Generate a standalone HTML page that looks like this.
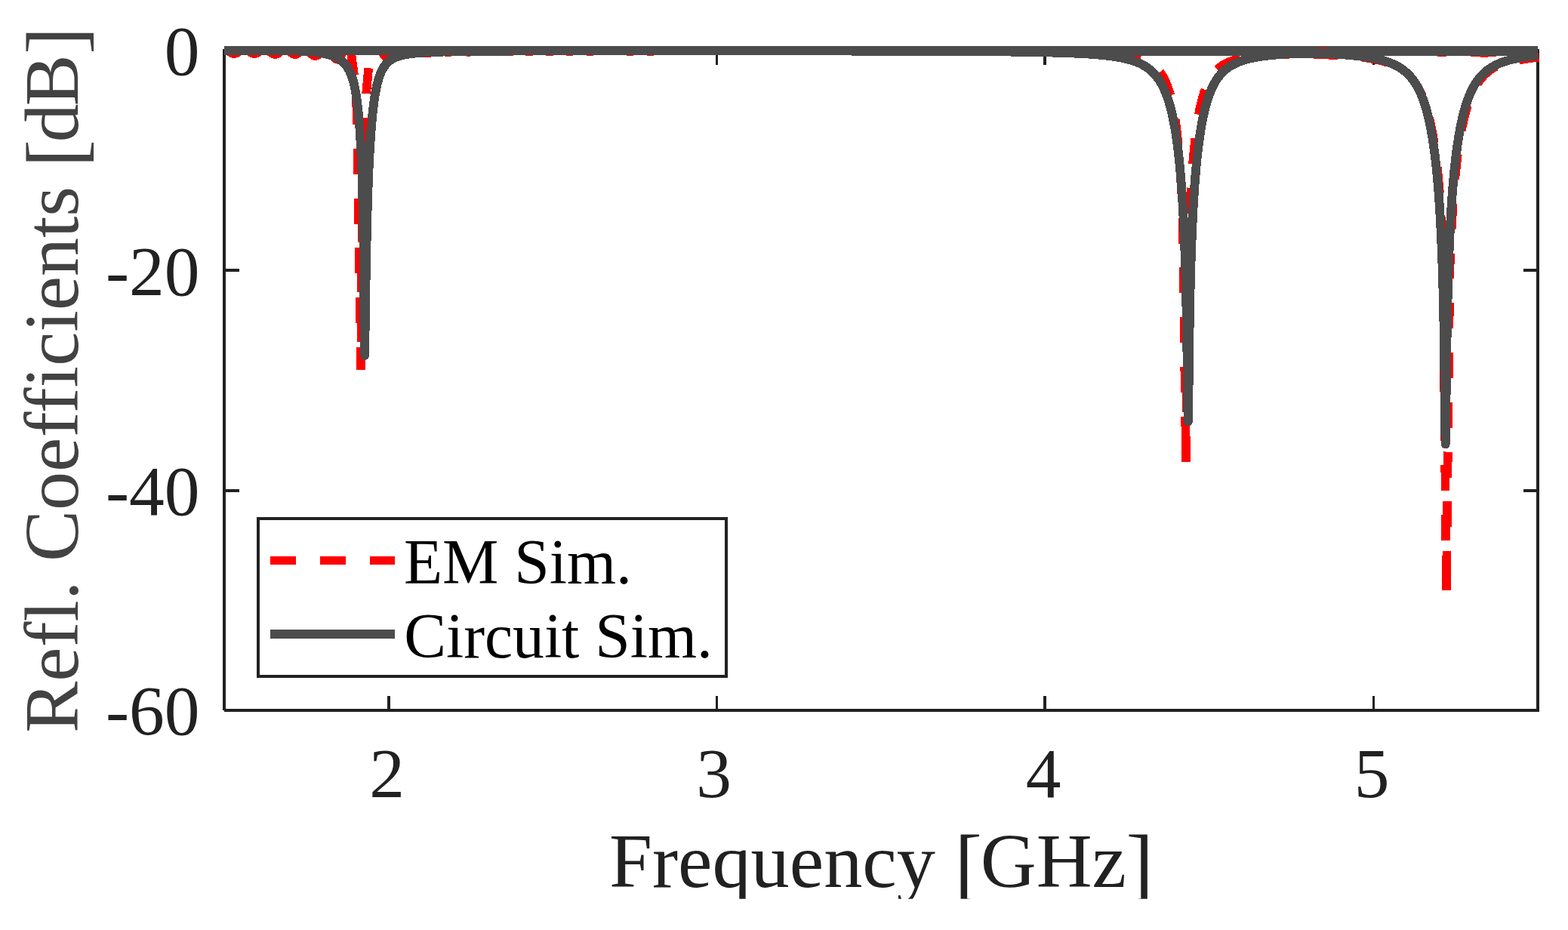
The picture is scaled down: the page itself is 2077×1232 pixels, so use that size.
<!DOCTYPE html>
<html lang="en"><head><meta charset="utf-8"><title>Reflection coefficients: EM vs circuit simulation</title>
<style>
html,body{margin:0;padding:0;background:#fff;}
body{width:2077px;height:1232px;overflow:hidden;}
svg{display:block;}
text{font-family:"Liberation Serif",serif;}
.tk{font-size:93.5px;fill:#212121;}
.lb{font-size:102px;font-variant-ligatures:discretionary-ligatures;}
.br{font-size:109px;}
.lg{font-size:84.3px;fill:#000;}
</style></head><body>
<svg width="2077" height="1232" viewBox="0 0 2077 1232">
<defs><clipPath id="xlclip"><rect x="-400" y="-120" width="800" height="136"/></clipPath><clipPath id="rclip"><rect x="290" y="62" width="1760" height="900"/></clipPath></defs>
<rect width="2077" height="1232" fill="#fff"/>
<g fill="#212121" shape-rendering="crispEdges">
<rect x="295" y="65" width="4" height="876"/>
<rect x="2035" y="65" width="4" height="878"/>
<rect x="297" y="939" width="1742" height="4"/>
<rect x="297" y="65" width="1742" height="4"/>
<rect x="513" y="922" width="4" height="18"/>
<rect x="513" y="68" width="4" height="18"/>
<rect x="948" y="922" width="3" height="18"/>
<rect x="948" y="68" width="3" height="18"/>
<rect x="1382" y="922" width="4" height="18"/>
<rect x="1382" y="68" width="4" height="18"/>
<rect x="1818" y="922" width="3" height="18"/>
<rect x="1818" y="68" width="3" height="18"/>
<rect x="298" y="356" width="19" height="4"/>
<rect x="2018" y="356" width="18" height="4"/>
<rect x="298" y="648" width="19" height="4"/>
<rect x="2018" y="648" width="18" height="4"/>
</g>
<g class="tk" text-anchor="end">
<text x="264.6" y="99.25">0</text>
<text x="264.6" y="390.62">-20</text>
<text x="264.6" y="681.98">-40</text>
<text x="264.6" y="973.35">-60</text>
</g>
<g class="tk" text-anchor="middle">
<text x="512.53" y="1055.8">2</text>
<text x="945.53" y="1055.8">3</text>
<text x="1382.04" y="1055.8">4</text>
<text x="1817.04" y="1055.8">5</text>
</g>
<g transform="translate(1167.5 1174.7) scale(1.003 1)" clip-path="url(#xlclip)"><text class="lb" fill="#212121" text-anchor="middle">Frequency <tspan class="br" dy="6.3" dx="0">[</tspan><tspan dy="-6.3" dx="-2">GHz</tspan><tspan class="br" dy="6.3" dx="-0.5">]</tspan></text></g>
<text class="lb" fill="#424242" text-anchor="middle" transform="translate(103.3 503.2) rotate(-90) scale(1.001 1)">Refl. Coefficients <tspan class="br" dy="6.3" dx="0">[</tspan><tspan dy="-6.3" dx="-3.5">d</tspan><tspan dx="-3">B</tspan><tspan class="br" dy="6.3" dx="0.5">]</tspan></text>
<g fill="none" shape-rendering="crispEdges">
<g clip-path="url(#rclip)">
<path d="M297.03 65.4L297.52 65.42L298.01 65.48L298.49 65.57L298.98 65.7L299.47 65.86L299.96 66.06L300.44 66.28L300.93 66.53L301.42 66.8L301.91 67.09L302.4 67.4L302.88 67.71L303.37 68.04L303.86 68.36L304.35 68.69L304.83 69L305.32 69.31L305.81 69.6L306.3 69.87L306.79 70.12L307.27 70.34L307.76 70.54L308.25 70.7L308.74 70.83L309.22 70.92L309.71 70.98L310.2 71L310.7 70.98L311.19 70.92L311.69 70.83L312.19 70.7L312.68 70.53L313.18 70.33L313.67 70.11L314.17 69.85L314.67 69.58L315.16 69.28L315.66 68.97L316.16 68.64L316.65 68.32L317.15 67.98L317.64 67.66L318.14 67.33L318.64 67.02L319.13 66.72L319.63 66.45L320.13 66.19L320.62 65.97L321.12 65.77L321.61 65.6L322.11 65.47L322.61 65.38L323.1 65.32L323.6 65.3L324.1 65.32L324.59 65.38L325.09 65.47L325.59 65.61L326.08 65.77L326.58 65.97L327.07 66.2L327.57 66.46L328.07 66.74L328.56 67.04L329.06 67.35L329.56 67.68L330.05 68.01L330.55 68.34L331.04 68.67L331.54 69L332.04 69.31L332.53 69.61L333.03 69.89L333.53 70.15L334.02 70.38L334.52 70.58L335.01 70.74L335.51 70.88L336.01 70.97L336.5 71.03L337 71.05L337.49 71.03L337.99 70.98L338.48 70.89L338.97 70.77L339.46 70.61L339.96 70.42L340.45 70.21L340.94 69.97L341.44 69.7L341.93 69.42L342.42 69.12L342.91 68.81L343.41 68.5L343.9 68.17L344.39 67.85L344.89 67.54L345.38 67.23L345.87 66.93L346.36 66.65L346.86 66.38L347.35 66.14L347.84 65.93L348.34 65.74L348.83 65.58L349.32 65.46L349.81 65.37L350.31 65.32L350.8 65.3L351.29 65.32L351.79 65.38L352.28 65.49L352.77 65.63L353.26 65.81L353.76 66.03L354.25 66.28L354.74 66.56L355.24 66.87L355.73 67.2L356.22 67.54L356.71 67.9L357.21 68.27L357.7 68.65L358.19 69.03L358.69 69.4L359.18 69.76L359.67 70.1L360.16 70.43L360.66 70.74L361.15 71.02L361.64 71.27L362.14 71.49L362.63 71.67L363.12 71.81L363.61 71.92L364.11 71.98L364.6 72L365.09 71.98L365.57 71.91L366.06 71.8L366.54 71.64L367.03 71.45L367.51 71.22L368 70.95L368.48 70.65L368.97 70.33L369.45 69.98L369.94 69.61L370.42 69.23L370.91 68.84L371.39 68.46L371.88 68.07L372.36 67.69L372.85 67.32L373.33 66.97L373.82 66.65L374.3 66.35L374.79 66.08L375.27 65.85L375.76 65.66L376.24 65.5L376.73 65.39L377.21 65.32L377.7 65.3L378.19 65.32L378.67 65.39L379.16 65.5L379.64 65.66L380.13 65.85L380.61 66.08L381.1 66.35L381.58 66.65L382.07 66.97L382.55 67.32L383.04 67.69L383.52 68.07L384.01 68.46L384.49 68.84L384.98 69.23L385.46 69.61L385.95 69.98L386.43 70.33L386.92 70.65L387.4 70.95L387.89 71.22L388.37 71.45L388.86 71.64L389.34 71.8L389.83 71.91L390.31 71.98L390.8 72L391.29 71.98L391.78 71.91L392.27 71.8L392.76 71.64L393.25 71.45L393.74 71.22L394.24 70.95L394.73 70.65L395.22 70.33L395.71 69.98L396.2 69.61L396.69 69.23L397.18 68.84L397.67 68.46L398.16 68.07L398.65 67.69L399.14 67.32L399.63 66.97L400.12 66.65L400.61 66.35L401.11 66.08L401.6 65.85L402.09 65.66L402.58 65.5L403.07 65.39L403.56 65.32L404.05 65.3L404.54 65.33L405.03 65.42L405.52 65.56L406.01 65.76L406.5 66.02L406.99 66.32L407.49 66.66L407.98 67.05L408.47 67.47L408.96 67.93L409.45 68.4L409.94 68.89L410.43 69.4L410.92 69.9L411.41 70.41L411.9 70.9L412.39 71.37L412.88 71.83L413.37 72.25L413.86 72.64L414.36 72.98L414.85 73.28L415.34 73.54L415.83 73.74L416.32 73.88L416.81 73.97L417.3 74L417.79 73.98L418.27 73.92L418.76 73.83L419.25 73.7L419.74 73.53L420.22 73.33L420.71 73.1L421.2 72.83L421.68 72.55L422.17 72.23L422.66 71.9L423.15 71.55L423.63 71.19L424.12 70.82L424.61 70.44L425.09 70.06L425.58 69.68L426.07 69.31L426.55 68.95L427.04 68.6L427.53 68.27L428.02 67.95L428.5 67.67L428.99 67.4L429.48 67.17L429.96 66.97L430.45 66.8L430.94 66.67L431.43 66.58L431.91 66.52L432.4 66.5L432.89 66.53L433.37 66.63L433.86 66.78L434.35 67L434.84 67.28L435.32 67.61L435.81 67.99L436.3 68.42L436.78 68.9L437.27 69.41L437.76 69.96L438.25 70.53L438.73 71.13L439.22 71.74L439.71 72.36L440.19 72.99L440.68 73.61L441.17 74.22L441.65 74.82L442.14 75.39L442.63 75.94L443.12 76.45L443.6 76.93L444.09 77.36L444.58 77.74L445.06 78.07L445.55 78.35L446.04 78.57L446.53 78.72L447.01 78.82L447.5 78.85L447.98 78.78L448.46 78.55L448.94 78.19L449.42 77.69L449.9 77.07L450.39 76.34L450.87 75.51L451.35 74.61L451.83 73.66L452.31 72.67L452.79 71.68L453.27 70.69L453.75 69.74L454.23 68.84L454.71 68.01L455.2 67.28L455.68 66.66L456.16 66.16L456.64 65.8L457.12 65.57L457.6 65.5L458.1 65.51L458.6 65.55L459.1 65.61L459.6 65.69L460.1 65.78L460.6 65.89L461.1 66L461.6 66.11L462.1 66.22L462.6 66.31L463.1 66.39L463.6 66.45L464.1 66.49L464.6 66.5" stroke="#ff0000" stroke-width="11.7" stroke-linejoin="round"/>
<path d="M478.1 489.8L473 150L469 100L464.6 66.5" stroke="#ff0000" stroke-width="11.7" stroke-dasharray="34 31.8" stroke-dashoffset="4.2" stroke-linejoin="bevel"/>
<path d="M478.1 489.8L479.4 340L481.6 215L484.9 126L488 92.2L490.2 70L490.7 69.97L491.2 69.87L491.7 69.7L492.2 69.47L492.7 69.19L493.2 68.87L493.7 68.5L494.2 68.1L494.7 67.68L495.2 67.25L495.7 66.82L496.2 66.4L496.7 66L497.2 65.63L497.7 65.31L498.2 65.03L498.7 64.8L499.2 64.63L499.7 64.53L500.2 64.5L500.7 64.54L501.19 64.66L501.69 64.86L502.19 65.14L502.68 65.49L503.18 65.9L503.67 66.38L504.17 66.92L504.67 67.5L505.16 68.12L505.66 68.78L506.16 69.46L506.65 70.15L507.15 70.85L507.64 71.54L508.14 72.22L508.64 72.88L509.13 73.5L509.63 74.08L510.13 74.62L510.62 75.1L511.12 75.51L511.61 75.86L512.11 76.14L512.61 76.34L513.1 76.46L513.6 76.5L514.1 76.47L514.59 76.4L515.09 76.27L515.59 76.1L516.08 75.88L516.58 75.62L517.07 75.32L517.57 74.99L518.07 74.62L518.56 74.24L519.06 73.83L519.56 73.4L520.05 72.97L520.55 72.53L521.04 72.1L521.54 71.67L522.04 71.26L522.53 70.88L523.03 70.51L523.53 70.18L524.02 69.88L524.52 69.62L525.01 69.4L525.51 69.23L526.01 69.1L526.5 69.03L527 69L527.49 69.02L527.99 69.06L528.48 69.14L528.97 69.24L529.46 69.37L529.96 69.53L530.45 69.71L530.94 69.91L531.43 70.12L531.93 70.36L532.42 70.6L532.91 70.86L533.4 71.12L533.9 71.38L534.39 71.64L534.88 71.9L535.37 72.14L535.87 72.38L536.36 72.59L536.85 72.79L537.34 72.97L537.84 73.13L538.33 73.26L538.82 73.36L539.31 73.44L539.81 73.48L540.3 73.5L540.8 73.48L541.29 73.43L541.79 73.35L542.29 73.23L542.78 73.09L543.28 72.92L543.77 72.72L544.27 72.49L544.77 72.25L545.26 71.99L545.76 71.72L546.26 71.43L546.75 71.15L547.25 70.85L547.74 70.57L548.24 70.28L548.74 70.01L549.23 69.75L549.73 69.51L550.23 69.28L550.72 69.08L551.22 68.91L551.71 68.77L552.21 68.65L552.71 68.57L553.2 68.52L553.7 68.5" stroke="#ff0000" stroke-width="11.7" stroke-dasharray="34 31.8" stroke-dashoffset="29" stroke-linejoin="bevel"/>
<path d="M553.7 68.5L557.7 68.36L558.2 68.48L558.7 68.6L559.2 68.73L559.7 68.87L560.2 69.01L560.7 69.15L561.2 69.3L561.7 69.44L562.2 69.57L562.7 69.7L563.2 69.81L563.7 69.92L564.2 70.01L564.7 70.08L565.2 70.14L565.7 70.18L566.2 70.2L566.7 70.2L567.2 70.18L567.7 70.14L568.2 70.09L568.7 70.01L569.2 69.91L569.7 69.79L570.2 69.66L570.7 69.51L571.2 69.35L571.7 69.18L572.2 69L572.7 68.81L573.2 68.62L573.7 68.42L574.2 68.23L574.7 68.03L575.2 67.85L575.7 67.66L576.2 67.49L576.7 67.33L577.2 67.18L577.7 67.05L578.2 66.93L578.7 66.84L579.2 66.76L579.7 66.7L580.2 66.66L580.7 66.64L581.2 66.64L581.7 66.67L582.2 66.71L582.7 66.78L583.2 66.86L583.7 66.96L584.2 67.07L584.7 67.2L585.2 67.33L585.7 67.48L586.2 67.64L586.7 67.8L587.2 67.96L587.7 68.12L588.2 68.28L588.7 68.44L589.2 68.58L589.7 68.72L590.2 68.85L590.7 68.96L591.2 69.06L591.7 69.15L592.2 69.21L592.7 69.26L593.2 69.28L593.7 69.29L594.2 69.27L594.7 69.24L595.2 69.18L595.7 69.11L596.2 69.01L596.7 68.9L597.2 68.78L597.7 68.64L598.2 68.48L598.7 68.32L599.2 68.14L599.7 67.96L600.2 67.78L600.7 67.59L601.2 67.41L601.7 67.23L602.2 67.05L602.7 66.89L603.2 66.73L603.7 66.58L604.2 66.45L604.7 66.34L605.2 66.24L605.7 66.16L606.2 66.1L606.7 66.06L607.2 66.04L607.7 66.04L608.2 66.06L608.7 66.1L609.2 66.16L609.7 66.24L610.2 66.34L610.7 66.45L611.2 66.58L611.7 66.72L612.2 66.87L612.7 67.03L613.2 67.19L613.7 67.36L614.2 67.53L614.7 67.7L615.2 67.86L615.7 68.02L616.2 68.17L616.7 68.31L617.2 68.43L617.7 68.55L618.2 68.64L618.7 68.72L619.2 68.78L619.7 68.82L620.2 68.84L620.7 68.84L621.2 68.82L621.7 68.77L622.2 68.71L622.7 68.63L623.2 68.53L623.7 68.41L624.2 68.28L624.7 68.14L625.2 67.98L625.7 67.82L626.2 67.66L626.7 67.49L627.2 67.32L627.7 67.15L628.2 66.99L628.7 66.84L629.2 66.7L629.7 66.57L630.2 66.46L630.7 66.36L631.2 66.29L631.7 66.23L632.2 66.2L632.7 66.18L633.2 66.18L633.7 66.2L634.2 66.24L634.7 66.29L635.2 66.36L635.7 66.44L636.2 66.52L636.7 66.61L637.2 66.7L637.7 66.78L638.2 66.87L638.7 66.94L639.2 67.01L639.7 67.07L640.2 67.12L640.7 67.16L641.2 67.19L641.7 67.21L642.2 67.21L642.7 67.21L643.2 67.2L643.7 67.19L644.2 67.18L644.7 67.16L645.2 67.14L645.7 67.13L646.2 67.12L646.7 67.12L647.2 67.12L647.7 67.13L648.2 67.14L648.7 67.15L649.2 67.17L649.7 67.19L650.2 67.2L650.7 67.21L651.2 67.22L651.7 67.22L652.2 67.21L652.7 67.19L653.2 67.16L653.7 67.11L654.2 67.05L654.7 66.98L655.2 66.9L655.7 66.81L656.2 66.71L656.7 66.61L657.2 66.5L657.7 66.39L658.2 66.29L658.7 66.19L659.2 66.1L659.7 66.02L660.2 65.95L660.7 65.9L661.2 65.87L661.7 65.86L662.2 65.86L662.7 65.89L663.2 65.94L663.7 66.01L664.2 66.09L664.7 66.2L665.2 66.32L665.7 66.45L666.2 66.6L666.7 66.75L667.2 66.92L667.7 67.08L668.2 67.25L668.7 67.41L669.2 67.57L669.7 67.73L670.2 67.87L670.7 68L671.2 68.12L671.7 68.22L672.2 68.31L672.7 68.38L673.2 68.42L673.7 68.45L674.2 68.46L674.7 68.45L675.2 68.41L675.7 68.36L676.2 68.28L676.7 68.19L677.2 68.08L677.7 67.96L678.2 67.82L678.7 67.67L679.2 67.51L679.7 67.34L680.2 67.16L680.7 66.99L681.2 66.81L681.7 66.63L682.2 66.46L682.7 66.29L683.2 66.14L683.7 65.99L684.2 65.86L684.7 65.74L685.2 65.64L685.7 65.56L686.2 65.49L686.7 65.45L687.2 65.42L687.7 65.42L688.2 65.43L688.7 65.47L689.2 65.52L689.7 65.6L690.2 65.69L690.7 65.8L691.2 65.93L691.7 66.07L692.2 66.22L692.7 66.38L693.2 66.54L693.7 66.71L694.2 66.89L694.7 67.06L695.2 67.23L695.7 67.4L696.2 67.56L696.7 67.71L697.2 67.85L697.7 67.98L698.2 68.09L698.7 68.18L699.2 68.26L699.7 68.32L700.2 68.35L700.7 68.37L701.2 68.37L701.7 68.34L702.2 68.3L702.7 68.23L703.2 68.15L703.7 68.05L704.2 67.93L704.7 67.8L705.2 67.66L705.7 67.5L706.2 67.34L706.7 67.17L707.2 66.99L707.7 66.81L708.2 66.64L708.7 66.46L709.2 66.3L709.7 66.13L710.2 65.98L710.7 65.84L711.2 65.72L711.7 65.61L712.2 65.52L712.7 65.44L713.2 65.39L713.7 65.35L714.2 65.34L714.7 65.34L715.2 65.37L715.7 65.42L716.2 65.48L716.7 65.57L717.2 65.67L717.7 65.79L718.2 65.92L718.7 66.06L719.2 66.22L719.7 66.38L720.2 66.55L720.7 66.73L721.2 66.9L721.7 67.08L722.2 67.25L722.7 67.41L723.2 67.57L723.7 67.71L724.2 67.85L724.7 67.96L725.2 68.07L725.7 68.15L726.2 68.22L726.7 68.27L727.2 68.3L727.7 68.31L728.2 68.29L728.7 68.26L729.2 68.21L729.7 68.13L730.2 68.04L730.7 67.93L731.2 67.81L731.7 67.67L732.2 67.52L732.7 67.36L733.2 67.2L733.7 67.02L734.2 66.85L734.7 66.67L735.2 66.5L735.7 66.32L736.2 66.16L736.7 66L737.2 65.86L737.7 65.73L738.2 65.61L738.7 65.51L739.2 65.42L739.7 65.36L740.2 65.31L740.7 65.29L741.2 65.28L741.7 65.3L742.2 65.34L742.7 65.39L743.2 65.47L743.7 65.56L744.2 65.67L744.7 65.8L745.2 65.94L745.7 66.09L746.2 66.25L746.7 66.41L747.2 66.59L747.7 66.76L748.2 66.94L748.7 67.11L749.2 67.28L749.7 67.44L750.2 67.59L750.7 67.73L751.2 67.86L751.7 67.97L752.2 68.07L752.7 68.14L753.2 68.2L753.7 68.24L754.2 68.26L754.7 68.26L755.2 68.24L755.7 68.19L756.2 68.13L756.7 68.05L757.2 67.95L757.7 67.83L758.2 67.7L758.7 67.56L759.2 67.41L759.7 67.24L760.2 67.07L760.7 66.9L761.2 66.72L761.7 66.55L762.2 66.37L762.7 66.21L763.2 66.04L763.7 65.89L764.2 65.76L764.7 65.63L765.2 65.52L765.7 65.43L766.2 65.35L766.7 65.3L767.2 65.26L767.7 65.25L768.2 65.25L768.7 65.28L769.2 65.33L769.7 65.39L770.2 65.48L770.7 65.58L771.2 65.7L771.7 65.83L772.2 65.97L772.7 66.13L773.2 66.29L773.7 66.46L774.2 66.64L774.7 66.81L775.2 66.99L775.7 67.16L776.2 67.32L776.7 67.48L777.2 67.63L777.7 67.76L778.2 67.88L778.7 67.99L779.2 68.07L779.7 68.14L780.2 68.19L780.7 68.22L781.2 68.22L781.7 68.21L782.2 68.18L782.7 68.12L783.2 68.05L783.7 67.96L784.2 67.85L784.7 67.73L785.2 67.59L785.7 67.44L786.2 67.28L786.7 67.12L787.2 66.95L787.7 66.79L788.2 66.62L788.7 66.46L789.2 66.3L789.7 66.16L790.2 66.03L790.7 65.91L791.2 65.81L791.7 65.73L792.2 65.66L792.7 65.62L793.2 65.59L793.7 65.59L794.2 65.61L794.7 65.64L795.2 65.69L795.7 65.76L796.2 65.84L796.7 65.93L797.2 66.02L797.7 66.12L798.2 66.22L798.7 66.32L799.2 66.42L799.7 66.51L800.2 66.59L800.7 66.66L801.2 66.72L801.7 66.76L802.2 66.8L802.7 66.82L803.2 66.83L803.7 66.83L804.2 66.83L804.7 66.81L805.2 66.8L805.7 66.78L806.2 66.76L806.7 66.74L807.2 66.73L807.7 66.72L808.2 66.72L808.7 66.72L809.2 66.73L809.7 66.74L810.2 66.75L810.7 66.76L811.2 66.78L811.7 66.79L812.2 66.8L812.7 66.8L813.2 66.79L813.7 66.78L814.2 66.75L814.7 66.71L815.2 66.66L815.7 66.6L816.2 66.53L816.7 66.44L817.2 66.36L817.7 66.26L818.2 66.16L818.7 66.07L819.2 65.97L819.7 65.89L820.2 65.81L820.7 65.74L821.2 65.69L821.7 65.65L822.2 65.63L822.7 65.63L823.2 65.65L823.7 65.69L824.2 65.75L824.7 65.82L825.2 65.92L825.7 66.03L826.2 66.16L826.7 66.3L827.2 66.45L827.7 66.61L828.2 66.78L828.7 66.94L829.2 67.11L829.7 67.27L830.2 67.43L830.7 67.57L831.2 67.71L831.7 67.83L832.2 67.94L832.7 68.03L833.2 68.1L833.7 68.16L834.2 68.19L834.7 68.2L835.2 68.19L835.7 68.16L836.2 68.12L836.7 68.05L837.2 67.96L837.7 67.85L838.2 67.73L838.7 67.6L839.2 67.45L839.7 67.29L840.2 67.13L840.7 66.96L841.2 66.78L841.7 66.6L842.2 66.43L842.7 66.26L843.2 66.1L843.7 65.94L844.2 65.79L844.7 65.66L845.2 65.54L845.7 65.44L846.2 65.36L846.7 65.29L847.2 65.25L847.7 65.22L848.2 65.22L848.7 65.23L849.2 65.27L849.7 65.32L850.2 65.4L850.7 65.49L851.2 65.6L851.7 65.73L852.2 65.86L852.7 66.01L853.2 66.17L853.7 66.34L854.2 66.52L854.7 66.69L855.2 66.87L855.7 67.04L856.2 67.21L856.7 67.37L857.2 67.53L857.7 67.67L858.2 67.8L858.7 67.91L859.2 68.01L859.7 68.09L860.2 68.15L860.7 68.19L861.2 68.21L861.7 68.21L862.2 68.19L862.7 68.15L863.2 68.08L863.7 67.99L864.2 67.89L864.7 67.76L865.2 67.63L865.7 67.48L866.2 67.32L866.7 67.16L867.2 67.01L867.7 66.85L868.2 66.7L868.7 66.57L869.2 66.44L869.7 66.32L870.2 66.23L870.7 66.15L871.2 66.08L871.7 66.04L872.2 66.01L872.7 65.99L873.2 66L873.7 66.02L874.2 66.05L874.7 66.09L875.2 66.14L875.7 66.19L876.2 66.26L876.7 66.32L877.2 66.38L877.7 66.44L878.2 66.5L878.7 66.55L879.2 66.6L879.7 66.64L880.2 66.67L880.7 66.7L881.2 66.71L881.7 66.73L882.2 66.73L882.7 66.73L883.2 66.73L883.7 66.73L884.2 66.73L884.7 66.72" stroke="#ff0000" stroke-width="11.7" stroke-linejoin="round"/>
<path d="M1571 611.71L1566.65 293.21L1566.5 289.07L1566.25 282.48L1566 276.25L1565.75 270.34L1565.5 264.73L1565.25 259.38L1565 254.29L1564.75 249.42L1564.5 244.76L1564.25 240.3L1564 236.02L1563.75 231.91L1563.5 227.96L1563 220.49L1562.5 213.56L1562 207.1L1561.5 201.06L1561 195.4L1560.5 190.09L1560 185.1L1559.5 180.39L1559 175.95L1558.5 171.76L1558 167.79L1557.5 164.03L1557 160.46L1556.5 157.08L1556 153.86L1555.5 150.81L1555 147.9L1554.5 145.13L1554 142.49L1553.5 139.97L1553 137.57L1552.5 135.28L1552 133.09L1551.5 130.99L1551 128.99L1550.5 127.07L1550 125.23L1549.5 123.48L1549 121.79L1548.5 120.17L1548 118.62L1547.5 117.14L1547 115.71L1546.5 114.34L1546 113.02L1545.5 111.75L1545 110.53L1544.5 109.36L1544 108.23L1543.5 107.15L1543 106.1L1542.5 105.1L1542 104.12L1541.5 103.19L1541 102.29L1540.5 101.42L1540 100.58L1539.5 99.77L1539 98.98L1538.5 98.23L1538 97.49L1537.5 96.79L1537 96.11L1536.5 95.44L1536 94.81L1535.5 94.19L1535 93.59L1534.5 93.01L1534 92.45L1533.5 91.9L1533 91.38L1532.5 90.87L1532 90.37L1531.5 89.89L1531 89.43L1530.5 88.97L1530 88.54L1529.5 88.11L1529 87.7L1528.5 87.29L1528 86.9L1527.5 86.53L1527 86.16L1526.5 85.8L1526 85.45L1525.5 85.11L1525 84.78L1524.5 84.46L1524 84.15L1523.5 83.85L1523 83.55L1522.5 83.26L1522 82.98L1521.5 82.71L1521 82.44L1520.5 82.18L1520 81.93L1519.5 81.68L1519 81.44L1518.5 81.21L1518 80.98L1517.5 80.76L1517 80.54L1516.5 80.33L1516 80.12L1515.5 79.92L1515 79.72L1514.5 79.53L1514 79.34L1513.5 79.15L1513 78.97L1512.5 78.8L1512 78.62L1511.5 78.46L1511 78.29L1510.5 78.13L1510 77.97L1509.5 77.82L1509 77.67L1508.5 77.52L1508 77.38L1507.5 77.23L1507 77.1L1506.5 76.96L1506 76.83L1505.5 76.7L1505 76.57L1504.5 76.45L1504 76.32L1503.5 76.2L1503 76.09L1502.5 75.97L1502 75.86L1500 75.43L1498 75.03L1496 74.66L1494 74.32L1492 74L1490 73.71L1488 73.43L1486 73.17L1484 72.93L1482 72.7L1480 72.48L1478 72.28L1476 72.09L1474 71.91L1472 71.75L1470 71.59L1468 71.44L1466 71.29L1464 71.16L1462 71.03L1460 70.91L1458 70.79L1456 70.68L1454 70.58L1452 70.48L1450 70.38" stroke="#ff0000" stroke-width="11.7" stroke-dasharray="34 31.8" stroke-dashoffset="39.8" stroke-linejoin="bevel"/>
<path d="M1571 611.71L1575.35 304.7L1575.6 297.85L1575.85 291.39L1576.1 285.26L1576.35 279.44L1576.6 273.9L1576.85 268.62L1577.1 263.58L1577.35 258.76L1577.6 254.14L1577.85 249.7L1578.1 245.45L1578.35 241.36L1578.6 237.42L1578.85 233.62L1579.1 229.96L1579.6 223.02L1580.1 216.53L1580.6 210.46L1581.1 204.75L1581.6 199.38L1582.1 194.32L1582.6 189.54L1583.1 185.02L1583.6 180.74L1584.1 176.68L1584.6 172.82L1585.1 169.16L1585.6 165.67L1586.1 162.35L1586.6 159.19L1587.1 156.17L1587.6 153.29L1588.1 150.54L1588.6 147.91L1589.1 145.39L1589.6 142.98L1590.1 140.68L1590.6 138.47L1591.1 136.35L1591.6 134.32L1592.1 132.37L1592.6 130.5L1593.1 128.71L1593.6 126.98L1594.1 125.32L1594.6 123.73L1595.1 122.19L1595.6 120.72L1596.1 119.3L1596.6 117.93L1597.1 116.61L1597.6 115.34L1598.1 114.12L1598.6 112.94L1599.1 111.8L1599.6 110.7L1600.1 109.64L1600.6 108.62L1601.1 107.63L1601.6 106.67L1602.1 105.75L1602.6 104.86L1603.1 104L1603.6 103.16L1604.1 102.35L1604.6 101.57L1605.1 100.82L1605.6 100.09L1606.1 99.38L1606.6 98.69L1607.1 98.03L1607.6 97.38L1608.1 96.76L1608.6 96.15L1609.1 95.56L1609.6 94.99L1610.1 94.44L1610.6 93.9L1611.1 93.38L1611.6 92.88L1612.1 92.39L1612.6 91.91L1613.1 91.44L1613.6 90.99L1614.1 90.56L1614.6 90.13L1615.1 89.72L1615.6 89.31L1616.1 88.92L1616.6 88.54L1617.1 88.17L1617.6 87.81L1618.1 87.46L1618.6 87.11L1619.1 86.78L1619.6 86.46L1620.1 86.14L1620.6 85.83L1621.1 85.53L1621.6 85.24L1622.1 84.95L1622.6 84.67L1623.1 84.4L1623.6 84.14L1624.1 83.88L1624.6 83.63L1625.1 83.38L1625.6 83.14L1626.1 82.91L1626.6 82.68L1627.1 82.46L1627.6 82.24L1628.1 82.02L1628.6 81.82L1629.1 81.61L1629.6 81.41L1630.1 81.22L1630.6 81.03L1631.1 80.85L1631.6 80.66L1632.1 80.49L1632.6 80.31L1633.1 80.14L1633.6 79.98L1634.1 79.82L1634.6 79.66L1635.1 79.5L1635.6 79.35L1636.1 79.2L1636.6 79.06L1637.1 78.91L1637.6 78.77L1638.1 78.64L1638.6 78.5L1639.1 78.37L1639.6 78.25L1640.1 78.12L1640.6 78L1641.1 77.88L1643.1 77.42L1645.1 76.99L1647.1 76.6L1649.1 76.24L1651.1 75.91L1653.1 75.6L1655.1 75.31L1657.1 75.04L1659.1 74.79L1661.1 74.56L1663.1 74.35L1665.1 74.15L1667.1 73.96L1669.1 73.79L1671.1 73.62L1673.1 73.47L1675.1 73.33L1677.1 73.2L1679.1 73.08L1681.1 72.97L1683.1 72.86L1685.1 72.77L1687.1 72.68L1689.1 72.59L1691.1 72.52L1693.1 72.45L1695.1 72.38L1697.1 72.32L1699.1 72.27L1701.1 72.22L1703.1 72.18L1705.1 72.14L1707.1 72.11L1709.1 72.08L1711.1 72.05L1713.1 72.03L1715.1 72.01L1717.1 72L1719.1 71.99L1721.1 71.99L1723.1 71.98L1725.1 71.99L1727.1 71.99L1729.1 72L1731.1 72.02L1733.1 72.03L1735.1 72.06L1737.1 72.08L1739.1 72.11L1741.1 72.14L1743.1 72.18L1745 72.21" stroke="#ff0000" stroke-width="11.7" stroke-dasharray="34 31.8" stroke-dashoffset="0" stroke-linejoin="bevel"/>
<path d="M1915.9 781.72L1911.55 339.58L1911.5 338.28L1911.25 331.95L1911 325.94L1910.75 320.21L1910.5 314.75L1910.25 309.53L1910 304.52L1909.75 299.72L1909.5 295.11L1909.25 290.67L1909 286.4L1908.75 282.28L1908.5 278.3L1908 270.74L1907.5 263.66L1907 257L1906.5 250.73L1906 244.8L1905.5 239.19L1905 233.86L1904.5 228.79L1904 223.97L1903.5 219.37L1903 214.98L1902.5 210.78L1902 206.77L1901.5 202.92L1901 199.22L1900.5 195.68L1900 192.27L1899.5 189L1899 185.85L1898.5 182.81L1898 179.89L1897.5 177.07L1897 174.35L1896.5 171.73L1896 169.2L1895.5 166.75L1895 164.39L1894.5 162.1L1894 159.89L1893.5 157.75L1893 155.68L1892.5 153.67L1892 151.73L1891.5 149.84L1891 148.02L1890.5 146.25L1890 144.53L1889.5 142.87L1889 141.25L1888.5 139.68L1888 138.16L1887.5 136.68L1887 135.24L1886.5 133.85L1886 132.49L1885.5 131.17L1885 129.89L1884.5 128.64L1884 127.43L1883.5 126.25L1883 125.11L1882.5 123.99L1882 122.9L1881.5 121.84L1881 120.81L1880.5 119.81L1880 118.83L1879.5 117.88L1879 116.95L1878.5 116.05L1878 115.17L1877.5 114.31L1877 113.47L1876.5 112.65L1876 111.85L1875.5 111.08L1875 110.32L1874.5 109.58L1874 108.86L1873.5 108.15L1873 107.46L1872.5 106.79L1872 106.13L1871.5 105.49L1871 104.87L1870.5 104.26L1870 103.66L1869.5 103.07L1869 102.5L1868.5 101.95L1868 101.4L1867.5 100.87L1867 100.35L1866.5 99.84L1866 99.34L1865.5 98.85L1865 98.38L1864.5 97.91L1864 97.45L1863.5 97.01L1863 96.57L1862.5 96.14L1862 95.72L1861.5 95.31L1861 94.91L1860.5 94.52L1860 94.13L1859.5 93.75L1859 93.39L1858.5 93.02L1858 92.67L1857.5 92.32L1857 91.98L1856.5 91.65L1856 91.32L1855.5 91L1855 90.68L1854.5 90.37L1854 90.07L1853.5 89.78L1853 89.48L1852.5 89.2L1852 88.92L1851.5 88.65L1851 88.38L1850.5 88.11L1850 87.85L1849.5 87.6L1849 87.35L1848.5 87.1L1848 86.86L1847.5 86.62L1847 86.39L1845 85.5L1843 84.68L1841 83.91L1839 83.19L1837 82.52L1835 81.89L1833 81.3L1831 80.75L1829 80.23L1827 79.74L1825 79.28L1823 78.85L1821 78.45L1819 78.07L1817 77.7L1815 77.36L1813 77.04L1811 76.74L1809 76.45L1807 76.18L1805 75.92L1803 75.68L1801 75.45L1799 75.23L1797 75.02L1795 74.82L1793 74.64L1791 74.46L1789 74.29L1787 74.13L1785 73.98L1783 73.84L1781 73.7L1779 73.57L1777 73.45L1775 73.33L1773 73.22L1771 73.12L1769 73.02L1767 72.93L1765 72.84L1763 72.76L1761 72.68L1759 72.6L1757 72.54L1755 72.47L1753 72.41L1751 72.36L1749 72.3L1747 72.26L1745 72.21" stroke="#ff0000" stroke-width="11.7" stroke-dasharray="34 31.8" stroke-dashoffset="0" stroke-linejoin="bevel"/>
<path d="M1915.9 781.72L1920.25 362.61L1920.4 357.94L1920.65 350.54L1920.9 343.56L1921.15 336.96L1921.4 330.7L1921.65 324.75L1921.9 319.07L1922.15 313.66L1922.4 308.48L1922.65 303.52L1922.9 298.75L1923.15 294.18L1923.4 289.77L1923.65 285.53L1923.9 281.44L1924.15 277.49L1924.4 273.67L1924.9 266.4L1925.4 259.57L1925.9 253.15L1926.4 247.08L1926.9 241.34L1927.4 235.9L1927.9 230.73L1928.4 225.81L1928.9 221.13L1929.4 216.65L1929.9 212.37L1930.4 208.28L1930.9 204.37L1931.4 200.61L1931.9 197L1932.4 193.54L1932.9 190.21L1933.4 187.01L1933.9 183.93L1934.4 180.96L1934.9 178.1L1935.4 175.34L1935.9 172.67L1936.4 170.1L1936.9 167.62L1937.4 165.22L1937.9 162.9L1938.4 160.66L1938.9 158.49L1939.4 156.38L1939.9 154.35L1940.4 152.38L1940.9 150.47L1941.4 148.62L1941.9 146.82L1942.4 145.08L1942.9 143.4L1943.4 141.76L1943.9 140.17L1944.4 138.63L1944.9 137.13L1945.4 135.67L1945.9 134.26L1946.4 132.88L1946.9 131.55L1947.4 130.25L1947.9 128.98L1948.4 127.76L1948.9 126.56L1949.4 125.4L1949.9 124.27L1950.4 123.17L1950.9 122.09L1951.4 121.05L1951.9 120.03L1952.4 119.04L1952.9 118.08L1953.4 117.14L1953.9 116.22L1954.4 115.33L1954.9 114.46L1955.4 113.61L1955.9 112.78L1956.4 111.97L1956.9 111.18L1957.4 110.42L1957.9 109.67L1958.4 108.93L1958.9 108.22L1959.4 107.52L1959.9 106.84L1960.4 106.18L1960.9 105.53L1961.4 104.89L1961.9 104.27L1962.4 103.67L1962.9 103.07L1963.4 102.5L1963.9 101.93L1964.4 101.38L1964.9 100.84L1965.4 100.31L1965.9 99.79L1966.4 99.29L1966.9 98.79L1967.4 98.31L1967.9 97.84L1968.4 97.37L1968.9 96.92L1969.4 96.48L1969.9 96.04L1970.4 95.62L1970.9 95.2L1971.4 94.79L1971.9 94.39L1972.4 94L1972.9 93.62L1973.4 93.24L1973.9 92.87L1974.4 92.51L1974.9 92.16L1975.4 91.81L1975.9 91.48L1976.4 91.14L1976.9 90.82L1977.4 90.5L1977.9 90.18L1978.4 89.87L1978.9 89.57L1979.4 89.28L1979.9 88.99L1980.4 88.7L1980.9 88.42L1981.4 88.15L1981.9 87.88L1982.4 87.61L1982.9 87.35L1983.4 87.1L1983.9 86.85L1984.4 86.6L1984.9 86.36L1985.4 86.12L1985.9 85.89L1986.4 85.66L1988.4 84.79L1990.4 83.97L1992.4 83.26L1994.4 82.65L1996.4 82.12L1998.4 81.68L2000.4 81.29L2002.4 80.96L2004.4 80.65L2006.4 80.37L2008.4 80.09L2010.4 79.8L2012.4 79.5L2014.4 79.16L2016.4 78.8L2018.4 78.45L2020.4 78.12L2022.4 77.8L2024.4 77.5L2026.4 77.22L2028.4 76.95L2030.4 76.7L2032.4 76.45L2034.4 76.22L2036.4 76L2038.34 75.79" stroke="#ff0000" stroke-width="11.7" stroke-dasharray="34 31.8" stroke-dashoffset="48.2" stroke-linejoin="bevel"/>
<path d="M1882 68.6H1891" stroke="#ff0000" stroke-width="11.7"/>
<path d="M1904 68.7H1916" stroke="#ff0000" stroke-width="11.7"/>
<path d="M1948 69.1H1982" stroke="#ff0000" stroke-width="11.7"/>
<path d="M1961 69.9H1971" stroke="#ff0000" stroke-width="11.7"/>
<path d="M1216 68.2H1227.5" stroke="#ff0000" stroke-width="11.7"/>
</g>
<path d="M297.03 61.1 H2037.04 V73.85 L297.03 72.8 Z" fill="#4c4c4c" stroke="none"/>
<path d="M297.03 67.2L299.03 67.2L301.03 67.2L303.03 67.2L305.03 67.2L307.03 67.2L309.03 67.2L311.03 67.2L313.03 67.2L315.03 67.2L317.03 67.2L319.03 67.2L321.03 67.2L323.03 67.2L325.03 67.2L327.03 67.2L329.03 67.2L331.03 67.21L333.03 67.21L335.03 67.21L337.03 67.21L339.03 67.21L341.03 67.21L343.03 67.21L345.03 67.21L347.03 67.21L349.03 67.21L351.03 67.21L353.03 67.21L355.03 67.21L357.03 67.21L359.03 67.21L361.03 67.21L363.03 67.21L365.03 67.21L367.03 67.21L369.03 67.21L371.03 67.21L373.03 67.21L375.03 67.21L377.03 67.21L379.04 67.21L381.04 67.21L383.04 67.22L385.04 67.24L387.04 67.27L389.04 67.31L391.05 67.36L393.05 67.42L395.05 67.49L397.05 67.56L399.06 67.65L401.06 67.75L403.07 67.85L405.08 67.97L407.08 68.11L409.09 68.26L411.1 68.42L413.11 68.61L415.12 68.81L415.62 68.86L416.13 68.92L416.63 68.97L417.13 69.03L417.64 69.09L418.14 69.15L418.64 69.21L419.15 69.28L419.65 69.34L420.15 69.41L420.66 69.48L421.16 69.55L421.66 69.62L422.17 69.69L422.67 69.77L423.18 69.85L423.68 69.93L424.19 70.01L424.69 70.09L425.19 70.18L425.7 70.27L426.2 70.36L426.71 70.45L427.21 70.54L427.72 70.64L428.22 70.74L428.73 70.84L429.23 70.95L429.74 71.06L430.24 71.17L430.75 71.28L431.25 71.39L431.76 71.51L432.26 71.64L432.77 71.76L433.28 71.89L433.78 72.02L434.29 72.16L434.79 72.3L435.3 72.44L435.8 72.58L436.31 72.74L436.82 72.89L437.32 73.05L437.83 73.21L438.34 73.38L438.84 73.55L439.35 73.73L439.86 73.91L440.36 74.1L440.87 74.29L441.38 74.49L441.88 74.7L442.39 74.91L442.9 75.12L443.4 75.34L443.91 75.57L444.42 75.81L444.92 76.05L445.43 76.3L445.94 76.56L446.45 76.83L446.95 77.1L447.46 77.38L447.97 77.68L448.48 77.98L448.98 78.29L449.49 78.61L450 78.94L450.51 79.28L451.01 79.64L451.52 80L452.03 80.38L452.53 80.77L453.04 81.18L453.55 81.6L454.06 82.03L454.56 82.48L455.07 82.95L455.58 83.44L456.09 83.96L456.59 84.49L457.1 85.06L457.61 85.65L458.11 86.26L458.62 86.91L459.13 87.59L459.64 88.3L460.14 89.05L460.65 89.84L461.16 90.67L461.66 91.54L462.17 92.47L462.68 93.44L463.18 94.46L463.69 95.54L464.19 96.68L464.7 97.89L465.21 99.17L465.71 100.52L466.21 101.96L466.71 103.49L467.21 105.11L467.71 106.83L468.21 108.66L468.71 110.61L469.2 112.7L469.7 114.92L470.2 117.3L470.69 119.84L471.18 122.56L471.68 125.48L472.17 128.61L472.66 131.98L473.15 135.61L473.64 139.52L474.12 143.75L474.61 148.32L475.09 153.28L475.57 158.66L476.05 164.52L476.53 170.92L476.77 174.34L477 177.93L477.24 181.68L477.47 185.62L477.71 189.76L477.94 194.11L478.17 198.69L478.41 203.52L478.64 208.61L478.86 214L479.09 219.7L479.32 225.75L479.54 232.19L479.77 239.04L479.99 246.37L480.2 254.23L480.42 262.68L480.63 271.8L480.84 281.69L481.05 292.47L481.25 304.28L481.45 317.3L481.64 331.75L481.72 337.98L481.79 344.51L481.86 351.35L481.93 358.52L482 366.04L482.07 373.94L482.14 382.22L482.2 390.89L482.27 399.95L482.33 409.37L482.39 419.07L482.45 428.95L482.51 438.77L482.57 448.21L482.9 470.98L483.36 451.78L483.49 442.61L483.63 432.9L483.77 423.01L483.91 413.22L484.05 403.68L484.19 394.47L484.32 385.64L484.46 377.2L484.59 369.15L484.72 361.49L484.85 354.18L484.98 347.21L485.11 340.56L485.23 334.21L485.36 328.13L485.48 322.32L485.6 316.75L485.91 303.79L486.2 292.02L486.5 281.28L486.79 271.42L487.07 262.33L487.36 253.9L487.64 246.07L487.92 238.76L488.19 231.92L488.47 225.5L488.74 219.46L489.02 213.78L489.29 208.4L489.56 203.32L489.83 198.5L490.09 193.93L490.36 189.59L490.63 185.46L490.89 181.53L491.15 177.78L491.42 174.2L491.68 170.79L491.94 167.52L492.2 164.4L492.72 158.55L493.24 153.17L493.76 148.23L494.27 143.66L494.79 139.44L495.3 135.54L495.81 131.91L496.32 128.55L496.83 125.42L497.34 122.5L497.84 119.78L498.35 117.25L498.85 114.87L499.35 112.65L499.86 110.57L500.36 108.62L500.86 106.79L501.36 105.07L501.86 103.46L502.36 101.93L502.86 100.5L503.36 99.14L503.85 97.87L504.34 96.66L504.84 95.52L505.33 94.44L505.82 93.42L506.32 92.45L506.81 91.53L507.31 90.65L507.8 89.83L508.29 89.04L508.78 88.29L509.28 87.58L509.77 86.9L510.26 86.25L510.76 85.63L511.25 85.04L511.74 84.48L512.24 83.95L512.73 83.43L513.22 82.94L513.71 82.47L514.21 82.02L514.7 81.59L515.19 81.18L515.68 80.78L516.18 80.4L516.67 80.03L517.16 79.68L517.65 79.35L518.15 79.02L518.64 78.71L519.13 78.41L519.63 78.12L520.12 77.85L520.61 77.58L521.1 77.32L521.6 77.07L522.09 76.83L522.58 76.6L523.07 76.38L523.57 76.16L524.06 75.95L524.55 75.75L525.05 75.56L525.54 75.37L526.03 75.19L526.53 75.01L527.02 74.84L527.51 74.67L528.01 74.51L528.5 74.36L528.99 74.21L529.49 74.06L529.98 73.92L530.47 73.78L530.97 73.65L531.46 73.52L531.95 73.39L532.45 73.27L532.94 73.15L533.44 73.04L533.93 72.93L534.43 72.82L534.92 72.71L535.41 72.61L535.91 72.51L536.4 72.41L536.9 72.32L537.39 72.23L537.89 72.14L538.38 72.05L538.88 71.96L539.37 71.88L539.87 71.8L540.36 71.72L540.86 71.64L541.35 71.57L541.85 71.5L542.34 71.42L542.84 71.35L543.33 71.29L543.83 71.22L544.33 71.15L544.82 71.09L545.32 71.03L545.81 70.97L546.31 70.91L546.81 70.85L547.3 70.8L547.8 70.74L548.3 70.69L548.79 70.63L549.29 70.58L549.79 70.53L550.28 70.48L550.78 70.44L551.28 70.39L551.77 70.34L552.27 70.3L552.77 70.25L553.27 70.21L553.76 70.17L555.75 70.01L557.74 69.86L559.74 69.72L561.73 69.59L563.72 69.47L565.72 69.36L567.71 69.26L569.71 69.17L571.7 69.08L573.7 68.99L575.7 68.91L577.69 68.84L579.69 68.77L581.69 68.71L583.69 68.65L585.69 68.59L587.69 68.54L589.68 68.48L591.68 68.44L593.68 68.39L595.68 68.35L597.68 68.31L599.68 68.27L601.68 68.23L603.68 68.19L605.68 68.16L607.68 68.13L609.68 68.1L611.68 68.07L613.68 68.04L615.68 68.01L617.68 67.99L619.68 67.96L621.68 67.94L623.68 67.92L625.68 67.9L627.68 67.88L629.68 67.86L631.68 67.84L633.68 67.82L635.68 67.8L637.68 67.79L639.68 67.77L641.68 67.75L643.68 67.74L645.68 67.73L647.68 67.71L649.68 67.7L651.68 67.69L653.68 67.67L655.68 67.66L657.68 67.65L659.68 67.64L661.68 67.63L663.68 67.62L665.68 67.61L667.68 67.6L669.68 67.59L671.68 67.58L673.68 67.57L675.68 67.56L677.68 67.55L679.68 67.54L681.68 67.54L683.68 67.53L685.68 67.52L687.68 67.51L689.68 67.51L691.68 67.5L693.68 67.49L695.68 67.49L697.68 67.48L699.68 67.48L701.68 67.47L703.68 67.46L705.68 67.46L707.68 67.45L709.68 67.45L711.68 67.44L713.68 67.44L715.68 67.43L717.68 67.43L719.68 67.42L721.68 67.42L723.68 67.41L725.68 67.41L727.68 67.41L729.68 67.4L731.68 67.4L733.68 67.4L735.68 67.39L737.68 67.39L739.68 67.38L741.68 67.38L743.68 67.38L745.68 67.38L747.68 67.37L749.68 67.37L751.68 67.37L753.68 67.36L755.68 67.36L757.68 67.36L759.68 67.36L761.68 67.35L763.68 67.35L765.68 67.35L767.68 67.35L769.68 67.34L771.68 67.34L773.68 67.34L775.68 67.34L777.68 67.34L779.68 67.34L781.68 67.33L783.68 67.33L785.68 67.33L787.68 67.33L789.68 67.33L791.68 67.33L793.68 67.33L795.68 67.32L797.68 67.32L799.68 67.32L801.68 67.32L803.68 67.32L805.68 67.32L807.68 67.32L809.68 67.32L811.68 67.32L813.68 67.32L815.68 67.32L817.68 67.32L819.68 67.32L821.68 67.31L823.68 67.31L825.68 67.31L827.68 67.31L829.68 67.31L831.68 67.31L833.68 67.31L835.68 67.31L837.68 67.31L839.68 67.31L841.68 67.31L843.68 67.31L845.68 67.31L847.68 67.31L849.68 67.31L851.68 67.32L853.68 67.32L855.68 67.32L857.68 67.32L859.68 67.32L861.68 67.32L863.68 67.32L865.68 67.32L867.68 67.32L869.68 67.32L871.68 67.32L873.68 67.32L875.68 67.32L877.68 67.32L879.68 67.32L881.68 67.32L883.68 67.32L885.68 67.32L887.68 67.33L889.68 67.33L891.68 67.33L893.68 67.33L895.68 67.33L897.68 67.33L899.68 67.33L901.68 67.33L903.68 67.33L905.68 67.33L907.68 67.33L909.68 67.33L911.68 67.34L913.68 67.34L915.68 67.34L917.68 67.34L919.68 67.34L921.68 67.34L923.68 67.34L925.68 67.34L927.68 67.34L929.68 67.35L931.68 67.35L933.68 67.35L935.68 67.35L937.68 67.35L939.68 67.35L941.68 67.35L943.68 67.35L945.68 67.35L947.68 67.36L949.68 67.36L951.68 67.36L953.68 67.36L955.68 67.36L957.68 67.36L959.68 67.36L961.68 67.36L963.68 67.37L965.68 67.37L967.68 67.37L969.68 67.37L971.68 67.37L973.68 67.37L975.68 67.37L977.68 67.38L979.68 67.38L981.68 67.38L983.68 67.38L985.68 67.38L987.68 67.38L989.68 67.39L991.68 67.39L993.68 67.39L995.68 67.39L997.68 67.39L999.68 67.39L1001.68 67.39L1003.68 67.4L1005.68 67.4L1007.68 67.4L1009.68 67.4L1011.68 67.4L1013.68 67.41L1015.68 67.41L1017.68 67.41L1019.68 67.41L1021.68 67.41L1023.68 67.41L1025.68 67.42L1027.68 67.42L1029.68 67.42L1031.68 67.42L1033.68 67.42L1035.68 67.43L1037.68 67.43L1039.68 67.43L1041.68 67.43L1043.68 67.43L1045.68 67.44L1047.68 67.44L1049.68 67.44L1051.68 67.44L1053.68 67.44L1055.68 67.45L1057.68 67.45L1059.68 67.45L1061.68 67.45L1063.68 67.46L1065.68 67.46L1067.68 67.46L1069.68 67.46L1071.68 67.47L1073.68 67.47L1075.68 67.47L1077.68 67.47L1079.68 67.48L1081.68 67.48L1083.68 67.48L1085.68 67.48L1087.68 67.49L1089.68 67.49L1091.68 67.49L1093.68 67.49L1095.68 67.5L1097.68 67.5L1099.68 67.5L1101.68 67.51L1103.68 67.51L1105.68 67.51L1107.68 67.52L1109.68 67.52L1111.68 67.52L1113.68 67.53L1115.68 67.53L1117.68 67.53L1119.68 67.53L1121.68 67.54L1123.68 67.54L1125.68 67.55L1127.68 67.55L1129.68 67.55L1131.68 67.56L1133.68 67.56L1135.68 67.56L1137.68 67.57L1139.68 67.57L1141.68 67.57L1143.68 67.58L1145.68 67.58L1147.68 67.59L1149.68 67.59L1151.68 67.59L1153.68 67.6L1155.68 67.6L1157.68 67.61L1159.68 67.61L1161.68 67.62L1163.68 67.62L1165.68 67.63L1167.68 67.63L1169.68 67.63L1171.68 67.64L1173.68 67.64L1175.68 67.65L1177.68 67.65L1179.68 67.66L1181.68 67.66L1183.68 67.67L1185.68 67.67L1187.68 67.68L1189.68 67.69L1191.68 67.69L1193.68 67.7L1195.68 67.7L1197.68 67.71L1199.68 67.71L1201.68 67.72L1203.68 67.73L1205.68 67.73L1207.68 67.74L1209.68 67.75L1211.68 67.75L1213.68 67.76L1215.68 67.77L1217.68 67.77L1219.68 67.78L1221.68 67.79L1223.68 67.79L1225.68 67.8L1227.68 67.81L1229.68 67.82L1231.68 67.82L1233.68 67.83L1235.68 67.84L1237.68 67.85L1239.68 67.86L1241.68 67.86L1243.68 67.87L1245.68 67.88L1247.68 67.89L1249.68 67.9L1251.68 67.91L1253.68 67.92L1255.68 67.93L1257.68 67.94L1259.68 67.95L1261.68 67.96L1263.68 67.97L1265.68 67.98L1267.68 67.99L1269.68 68L1271.68 68.01L1273.68 68.02L1275.68 68.03L1277.68 68.05L1279.68 68.06L1281.68 68.07L1283.68 68.08L1285.68 68.1L1287.68 68.11L1289.68 68.12L1291.68 68.14L1293.68 68.15L1295.68 68.17L1297.68 68.18L1299.68 68.19L1301.68 68.21L1303.68 68.23L1305.68 68.24L1307.68 68.26L1309.68 68.27L1311.68 68.29L1313.68 68.31L1315.68 68.33L1317.68 68.35L1319.68 68.36L1321.68 68.38L1323.68 68.4L1325.68 68.42L1327.68 68.44L1329.68 68.46L1331.68 68.49L1333.68 68.51L1335.68 68.53L1337.68 68.55L1339.68 68.58L1341.68 68.6L1343.68 68.63L1345.68 68.65L1347.68 68.68L1349.68 68.71L1351.68 68.73L1353.68 68.76L1355.68 68.79L1357.68 68.82L1359.68 68.85L1361.68 68.88L1363.68 68.92L1365.68 68.95L1367.68 68.99L1369.68 69.02L1371.68 69.06L1373.68 69.09L1375.68 69.13L1377.68 69.17L1379.68 69.22L1381.68 69.26L1383.68 69.3L1385.68 69.35L1387.68 69.39L1389.68 69.44L1391.68 69.49L1393.68 69.54L1395.68 69.6L1397.68 69.65L1399.68 69.71L1401.68 69.76L1403.68 69.83L1405.68 69.89L1407.68 69.95L1409.68 70.02L1411.68 70.09L1413.68 70.16L1415.68 70.24L1417.68 70.31L1419.68 70.39L1421.68 70.48L1423.68 70.57L1425.68 70.66L1427.68 70.75L1429.68 70.85L1431.68 70.95L1433.68 71.06L1435.68 71.17L1437.68 71.28L1439.68 71.4L1441.68 71.53L1443.68 71.66L1445.68 71.79L1447.68 71.94L1449.68 72.09L1451.68 72.24L1453.68 72.41L1455.68 72.58L1457.68 72.76L1459.68 72.95L1461.68 73.15L1463.68 73.36L1465.68 73.58L1467.68 73.81L1469.68 74.05L1471.68 74.31L1473.68 74.58L1475.68 74.87L1477.68 75.18L1479.68 75.5L1481.68 75.84L1483.68 76.21L1485.68 76.59L1487.68 77L1489.68 77.44L1491.68 77.91L1493.68 78.41L1495.68 78.94L1497.68 79.51L1499.68 80.12L1501.68 80.78L1503.68 81.48L1505.68 82.24L1506.18 82.44L1506.68 82.64L1507.18 82.85L1507.68 83.06L1508.18 83.27L1508.68 83.49L1509.18 83.72L1509.68 83.94L1510.18 84.18L1510.68 84.41L1511.18 84.65L1511.68 84.9L1512.18 85.15L1512.68 85.41L1513.18 85.67L1513.68 85.94L1514.18 86.21L1514.68 86.49L1515.18 86.78L1515.68 87.07L1516.18 87.36L1516.68 87.67L1517.18 87.98L1517.68 88.29L1518.18 88.62L1518.68 88.95L1519.18 89.29L1519.68 89.63L1520.18 89.99L1520.68 90.35L1521.18 90.72L1521.68 91.1L1522.18 91.48L1522.68 91.88L1523.18 92.28L1523.68 92.7L1524.18 93.12L1524.68 93.56L1525.18 94L1525.68 94.46L1526.18 94.92L1526.68 95.4L1527.18 95.89L1527.68 96.39L1528.18 96.9L1528.68 97.43L1529.18 97.97L1529.68 98.53L1530.18 99.09L1530.68 99.67L1531.18 100.27L1531.68 100.88L1532.18 101.51L1532.68 102.16L1533.18 102.82L1533.68 103.5L1534.18 104.2L1534.68 104.92L1535.18 105.65L1535.68 106.41L1536.18 107.19L1536.68 107.99L1537.18 108.81L1537.68 109.65L1538.18 110.52L1538.68 111.41L1539.18 112.33L1539.68 113.28L1540.18 114.25L1540.68 115.26L1541.18 116.29L1541.68 117.35L1542.18 118.44L1542.68 119.57L1543.18 120.73L1543.68 121.93L1544.18 123.17L1544.68 124.44L1545.18 125.75L1545.68 127.11L1546.18 128.51L1546.68 129.95L1547.18 131.44L1547.68 132.98L1548.18 134.57L1548.68 136.22L1549.18 137.92L1549.68 139.68L1550.18 141.5L1550.68 143.38L1551.18 145.33L1551.68 147.34L1552.18 149.43L1552.68 151.6L1553.18 153.84L1553.68 156.17L1554.18 158.59L1554.68 161.1L1555.18 163.7L1555.68 166.41L1556.18 169.22L1556.68 172.15L1557.18 175.2L1557.68 178.37L1558.18 181.68L1558.68 185.14L1559.18 188.74L1559.68 192.51L1560.18 196.45L1560.68 200.58L1561.18 204.91L1561.68 209.45L1562.18 214.22L1562.68 219.24L1563.18 224.53L1563.68 230.12L1564.18 236.04L1564.68 242.31L1565.18 248.97L1565.68 256.07L1566.18 263.67L1566.43 267.67L1566.68 271.82L1566.93 276.12L1567.18 280.59L1567.43 285.24L1567.68 290.09L1567.93 295.14L1568.18 300.42L1568.43 305.94L1568.68 311.73L1568.93 317.81L1569.18 324.21L1569.43 330.96L1569.68 338.09L1569.93 345.66L1570.18 353.71L1570.43 362.3L1570.68 371.5L1570.93 381.4L1571.18 392.11L1571.43 403.74L1571.68 416.44L1571.93 430.39L1572.03 436.37L1572.13 442.59L1572.23 449.07L1572.33 455.83L1572.43 462.87L1572.53 470.21L1572.63 477.85L1572.73 485.78L1572.83 493.99L1572.93 502.43L1573.03 511.05L1573.13 519.73L1573.23 528.3L1573.33 536.5L1573.43 544L1573.8 558.54L1574.23 538.78L1574.33 530.54L1574.43 521.83L1574.53 512.94L1574.63 504.08L1574.73 495.39L1574.83 486.93L1574.93 478.76L1575.03 470.9L1575.13 463.36L1575.23 456.12L1575.33 449.19L1575.43 442.54L1575.53 436.17L1575.63 430.05L1575.73 424.18L1575.83 418.54L1576.08 405.35L1576.33 393.31L1576.58 382.25L1576.83 372.05L1577.08 362.58L1577.33 353.77L1577.58 345.52L1577.83 337.78L1578.08 330.49L1578.33 323.6L1578.58 317.08L1578.83 310.89L1579.08 305L1579.33 299.38L1579.58 294.02L1579.83 288.89L1580.08 283.98L1580.33 279.26L1580.58 274.73L1580.83 270.38L1581.08 266.18L1581.33 262.13L1581.58 258.23L1581.83 254.46L1582.33 247.29L1582.83 240.57L1583.33 234.25L1583.83 228.29L1584.33 222.67L1584.83 217.34L1585.33 212.3L1585.83 207.51L1586.33 202.95L1586.83 198.61L1587.33 194.47L1587.83 190.53L1588.33 186.75L1588.83 183.15L1589.33 179.69L1589.83 176.39L1590.33 173.21L1590.83 170.17L1591.33 167.25L1591.83 164.44L1592.33 161.75L1592.83 159.15L1593.33 156.66L1593.83 154.25L1594.33 151.94L1594.83 149.71L1595.33 147.56L1595.83 145.48L1596.33 143.48L1596.83 141.55L1597.33 139.68L1597.83 137.88L1598.33 136.14L1598.83 134.46L1599.33 132.83L1599.83 131.26L1600.33 129.74L1600.83 128.27L1601.33 126.84L1601.83 125.46L1602.33 124.12L1602.83 122.83L1603.33 121.57L1603.83 120.36L1604.33 119.18L1604.83 118.03L1605.33 116.92L1605.83 115.85L1606.33 114.8L1606.83 113.79L1607.33 112.81L1607.83 111.85L1608.33 110.92L1608.83 110.02L1609.33 109.15L1609.83 108.29L1610.33 107.47L1610.83 106.66L1611.33 105.88L1611.83 105.12L1612.33 104.38L1612.83 103.66L1613.33 102.96L1613.83 102.28L1614.33 101.61L1614.83 100.96L1615.33 100.33L1615.83 99.72L1616.33 99.12L1616.83 98.54L1617.33 97.97L1617.83 97.42L1618.33 96.88L1618.83 96.35L1619.33 95.84L1619.83 95.34L1620.33 94.85L1620.83 94.38L1621.33 93.91L1621.83 93.46L1622.33 93.02L1622.83 92.58L1623.33 92.16L1623.83 91.75L1624.33 91.35L1624.83 90.95L1625.33 90.57L1625.83 90.19L1626.33 89.83L1626.83 89.47L1627.33 89.12L1627.83 88.78L1628.33 88.44L1628.83 88.11L1629.33 87.79L1629.83 87.48L1630.33 87.17L1630.83 86.87L1631.33 86.58L1631.83 86.29L1632.33 86.01L1632.83 85.73L1633.33 85.46L1633.83 85.2L1634.33 84.94L1634.83 84.69L1635.33 84.44L1635.83 84.19L1636.33 83.96L1636.83 83.72L1637.33 83.49L1637.83 83.27L1638.33 83.05L1638.83 82.83L1639.33 82.62L1639.83 82.41L1640.33 82.21L1640.83 82.01L1641.33 81.82L1641.83 81.62L1642.33 81.44L1642.83 81.25L1643.33 81.07L1643.83 80.89L1645.83 80.21L1647.83 79.58L1649.83 78.99L1651.83 78.44L1653.83 77.93L1655.83 77.45L1657.83 77L1659.83 76.58L1661.83 76.19L1663.83 75.82L1665.83 75.47L1667.83 75.14L1669.83 74.83L1671.83 74.54L1673.83 74.26L1675.83 74L1677.83 73.76L1679.83 73.52L1681.83 73.3L1683.83 73.09L1685.83 72.9L1687.83 72.71L1689.83 72.53L1691.83 72.36L1693.83 72.2L1695.83 72.05L1697.83 71.91L1699.83 71.77L1701.83 71.64L1703.83 71.52L1705.83 71.41L1707.83 71.3L1709.83 71.2L1711.83 71.11L1713.83 71.03L1715.83 70.95L1717.83 70.88L1719.83 70.82L1721.83 70.77L1723.83 70.72L1725.83 70.68L1727.83 70.65L1729.83 70.63L1731.83 70.62L1733.83 70.61L1735.83 70.61L1737.83 70.63L1739.83 70.65L1741.83 70.67L1743.83 70.71L1745.83 70.75L1747.83 70.8L1749.83 70.85L1751.83 70.91L1753.83 70.98L1755.83 71.05L1757.83 71.13L1759.83 71.22L1761.83 71.31L1763.83 71.4L1765.83 71.5L1767.83 71.61L1769.83 71.72L1771.83 71.84L1773.83 71.96L1775.83 72.09L1777.83 72.23L1779.83 72.37L1781.83 72.52L1783.83 72.68L1785.83 72.84L1787.83 73.01L1789.83 73.19L1791.83 73.38L1793.83 73.57L1795.83 73.78L1797.83 74L1799.83 74.22L1801.83 74.46L1803.83 74.71L1805.83 74.97L1807.83 75.25L1809.83 75.54L1811.83 75.85L1813.83 76.17L1815.83 76.52L1817.83 76.88L1819.83 77.26L1821.83 77.67L1823.83 78.1L1825.83 78.55L1827.83 79.04L1829.83 79.55L1831.83 80.1L1833.83 80.68L1835.83 81.31L1837.83 81.97L1839.83 82.68L1841.83 83.44L1843.83 84.26L1845.83 85.14L1846.33 85.37L1846.83 85.6L1847.33 85.84L1847.83 86.08L1848.33 86.33L1848.83 86.58L1849.33 86.84L1849.83 87.1L1850.33 87.36L1850.83 87.63L1851.33 87.91L1851.83 88.19L1852.33 88.48L1852.83 88.77L1853.33 89.07L1853.83 89.38L1854.33 89.69L1854.83 90.01L1855.33 90.33L1855.83 90.66L1856.33 91L1856.83 91.34L1857.33 91.69L1857.83 92.05L1858.33 92.42L1858.83 92.79L1859.33 93.17L1859.83 93.56L1860.33 93.96L1860.83 94.36L1861.33 94.78L1861.83 95.2L1862.33 95.64L1862.83 96.08L1863.33 96.53L1863.83 96.99L1864.33 97.47L1864.83 97.95L1865.33 98.44L1865.83 98.95L1866.33 99.47L1866.83 100L1867.33 100.54L1867.83 101.09L1868.33 101.66L1868.83 102.24L1869.33 102.83L1869.83 103.44L1870.33 104.06L1870.83 104.7L1871.33 105.35L1871.83 106.02L1872.33 106.71L1872.83 107.41L1873.33 108.13L1873.83 108.87L1874.33 109.63L1874.83 110.4L1875.33 111.2L1875.83 112.01L1876.33 112.85L1876.83 113.71L1877.33 114.59L1877.83 115.5L1878.33 116.42L1878.83 117.38L1879.33 118.36L1879.83 119.36L1880.33 120.4L1880.83 121.46L1881.33 122.55L1881.83 123.67L1882.33 124.82L1882.83 126.01L1883.33 127.22L1883.83 128.48L1884.33 129.77L1884.83 131.1L1885.33 132.46L1885.83 133.87L1886.33 135.32L1886.83 136.81L1887.33 138.35L1887.83 139.93L1888.33 141.56L1888.83 143.25L1889.33 144.98L1889.83 146.78L1890.33 148.63L1890.83 150.53L1891.33 152.51L1891.83 154.54L1892.33 156.65L1892.83 158.82L1893.33 161.07L1893.83 163.4L1894.33 165.81L1894.83 168.3L1895.33 170.88L1895.83 173.56L1896.33 176.34L1896.83 179.22L1897.33 182.21L1897.83 185.31L1898.33 188.54L1898.83 191.9L1899.33 195.4L1899.83 199.04L1900.33 202.84L1900.83 206.8L1901.33 210.94L1901.83 215.28L1902.33 219.81L1902.83 224.57L1903.33 229.57L1903.83 234.82L1904.33 240.36L1904.83 246.2L1905.33 252.38L1905.83 258.93L1906.33 265.9L1906.83 273.33L1907.08 277.24L1907.33 281.28L1907.58 285.47L1907.83 289.82L1908.08 294.33L1908.33 299.03L1908.58 303.92L1908.83 309.02L1909.08 314.34L1909.33 319.92L1909.58 325.75L1909.83 331.89L1910.08 338.34L1910.33 345.15L1910.58 352.35L1910.83 359.99L1911.08 368.13L1911.33 376.81L1911.58 386.13L1911.83 396.18L1912.08 407.05L1912.33 418.9L1912.58 431.89L1912.83 446.23L1912.93 452.4L1913.03 458.84L1913.13 465.58L1913.23 472.63L1913.33 480.02L1913.43 487.76L1913.53 495.88L1913.63 504.37L1913.73 513.25L1913.83 522.49L1913.93 532.04L1914.03 541.82L1914.13 551.65L1914.23 561.27L1914.33 570.27L1914.7 588.4L1915.13 564.97L1915.23 555.54L1915.33 545.76L1915.43 535.93L1915.53 526.27L1915.63 516.9L1915.73 507.88L1915.83 499.23L1915.93 490.96L1916.03 483.08L1916.13 475.55L1916.23 468.36L1916.33 461.5L1916.43 454.94L1916.53 448.67L1916.63 442.65L1916.73 436.89L1916.98 423.44L1917.23 411.2L1917.48 399.99L1917.73 389.66L1917.98 380.09L1918.23 371.19L1918.48 362.86L1918.73 355.05L1918.98 347.69L1919.23 340.75L1919.48 334.17L1919.73 327.93L1919.98 321.99L1920.23 316.32L1920.48 310.91L1920.73 305.73L1920.98 300.77L1921.23 296L1921.48 291.42L1921.73 287.02L1921.98 282.77L1922.23 278.68L1922.48 274.72L1922.73 270.9L1923.23 263.62L1923.73 256.79L1924.23 250.36L1924.73 244.29L1925.23 238.55L1925.73 233.11L1926.23 227.94L1926.73 223.02L1927.23 218.34L1927.73 213.87L1928.23 209.6L1928.73 205.52L1929.23 201.61L1929.73 197.86L1930.23 194.26L1930.73 190.81L1931.23 187.5L1931.73 184.31L1932.23 181.24L1932.73 178.28L1933.23 175.44L1933.73 172.69L1934.23 170.05L1934.73 167.49L1935.23 165.03L1935.73 162.64L1936.23 160.34L1936.73 158.12L1937.23 155.97L1937.73 153.88L1938.23 151.87L1938.73 149.92L1939.23 148.03L1939.73 146.2L1940.23 144.42L1940.73 142.7L1941.23 141.04L1941.73 139.42L1942.23 137.85L1942.73 136.33L1943.23 134.85L1943.73 133.41L1944.23 132.02L1944.73 130.67L1945.23 129.35L1945.73 128.07L1946.23 126.83L1946.73 125.62L1947.23 124.45L1947.73 123.31L1948.23 122.19L1948.73 121.11L1949.23 120.06L1949.73 119.04L1950.23 118.04L1950.73 117.07L1951.23 116.12L1951.73 115.2L1952.23 114.31L1952.73 113.43L1953.23 112.58L1953.73 111.75L1954.23 110.94L1954.73 110.15L1955.23 109.38L1955.73 108.63L1956.23 107.9L1956.73 107.18L1957.23 106.49L1957.73 105.81L1958.23 105.14L1958.73 104.49L1959.23 103.86L1959.73 103.24L1960.23 102.64L1960.73 102.05L1961.23 101.47L1961.73 100.91L1962.23 100.36L1962.73 99.82L1963.23 99.3L1963.73 98.79L1964.23 98.28L1964.73 97.79L1965.23 97.31L1965.73 96.84L1966.23 96.38L1966.73 95.94L1967.23 95.5L1967.73 95.07L1968.23 94.64L1968.73 94.23L1969.23 93.83L1969.73 93.43L1970.23 93.05L1970.73 92.67L1971.23 92.3L1971.73 91.93L1972.23 91.58L1972.73 91.23L1973.23 90.89L1973.73 90.55L1974.23 90.23L1974.73 89.9L1975.23 89.59L1975.73 89.28L1976.23 88.98L1976.73 88.68L1977.23 88.39L1977.73 88.1L1978.23 87.82L1978.73 87.55L1979.23 87.28L1979.73 87.01L1980.23 86.75L1980.73 86.5L1981.23 86.25L1981.73 86L1982.23 85.76L1982.73 85.53L1983.23 85.29L1983.73 85.07L1984.23 84.84L1984.73 84.62L1986.73 83.78L1988.73 83L1990.73 82.26L1992.73 81.58L1994.73 80.94L1996.73 80.34L1998.73 79.78L2000.73 79.25L2002.73 78.75L2004.73 78.29L2006.73 77.84L2008.73 77.43L2010.73 77.04L2012.73 76.67L2014.73 76.32L2016.73 75.98L2018.73 75.67L2020.73 75.37L2022.73 75.09L2024.73 74.82L2026.73 74.56L2028.73 74.32L2030.73 74.09L2032.73 73.86L2034.73 73.65L2036.73 73.45L2037.04 73.42" stroke="#4c4c4c" stroke-width="11.9" stroke-linejoin="round"/>
<rect x="1744" y="63" width="16" height="1" fill="#ff0000"/>
</g>
<g shape-rendering="crispEdges">
<rect x="342" y="687" width="620" height="209" fill="#fff" stroke="#212121" stroke-width="4"/>
<path d="M358 742.4 H523" stroke="#ff0000" stroke-width="11" stroke-dasharray="34 32" fill="none"/>
<path d="M358 840 H523" stroke="#4c4c4c" stroke-width="11.5" fill="none"/>
</g>
<text class="lg" transform="translate(535 772.7) scale(0.9916 1)">EM Sim.</text>
<text class="lg" transform="translate(535.2 870.5) scale(0.9916 1)">Circuit Sim.</text>
</svg>
</body></html>
